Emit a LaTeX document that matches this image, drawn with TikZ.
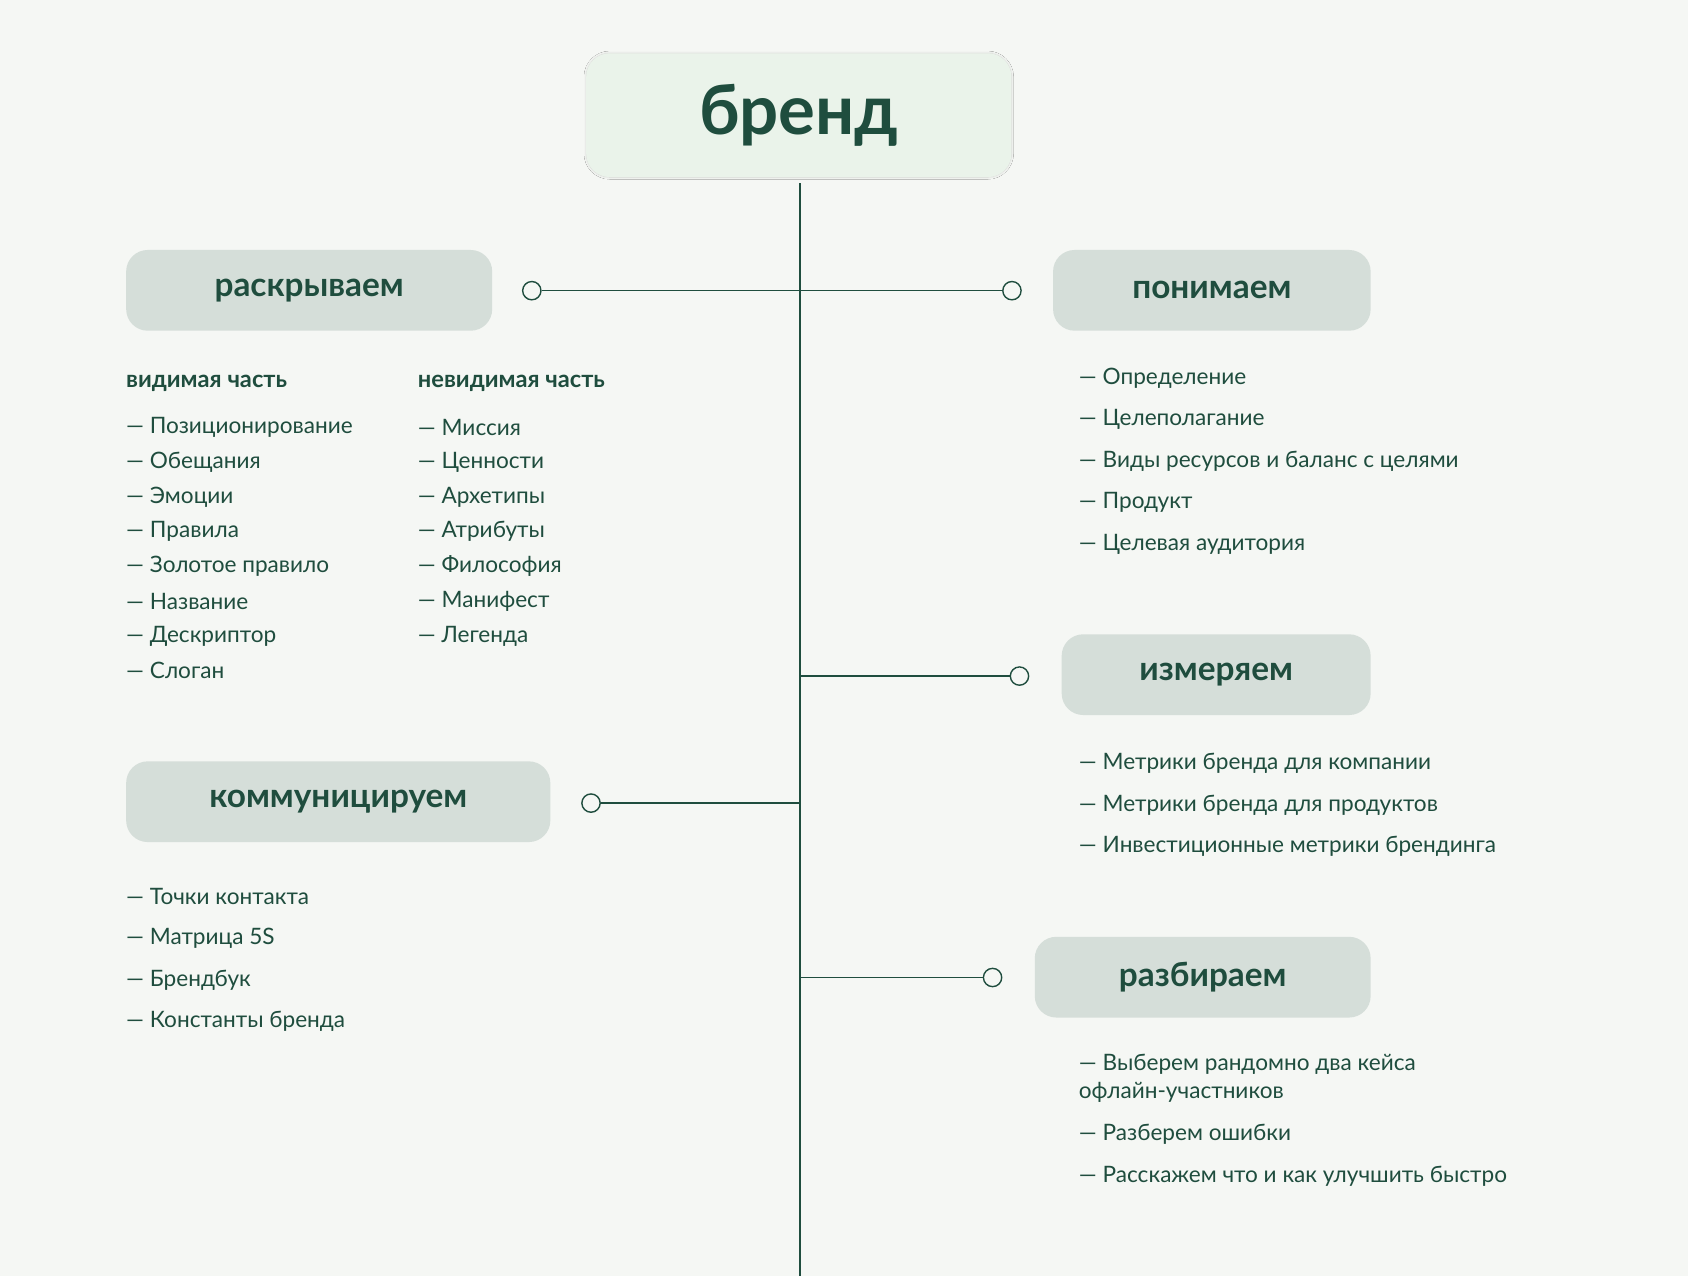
\documentclass[tikz,border=0pt]{standalone}
\usepackage{fontspec}
\setmainfont{Lato}
\usetikzlibrary{shadows.blur}
\definecolor{bg}{HTML}{F5F7F4}
\definecolor{dk}{HTML}{1F4D3E}
\definecolor{bx}{HTML}{D5DED9}
\definecolor{tb}{HTML}{EAF3EA}
\begin{document}
\begin{tikzpicture}[x=1pt,y=-1pt,
  hbox/.style={fill=bx,rounded corners=20pt,text=dk,font=\fontsize{31}{34}\selectfont\bfseries,anchor=north west,inner sep=0pt,align=center},
  item/.style={anchor=west,text=dk,font=\fontsize{21}{25}\selectfont,inner sep=0pt},
  sub/.style={anchor=west,text=dk,font=\fontsize{22}{25}\selectfont\bfseries,inner sep=0pt},
  ln/.style={draw=dk,line width=1.3pt},
  dot/.style={circle,draw=dk,line width=1.3pt,fill=bg,minimum size=17pt,inner sep=0pt}]
\fill[bg] (0,0) rectangle (1568,1185);
\useasboundingbox (0,0) rectangle (1568,1185);
\node[fill=tb,rounded corners=22pt,blur shadow={shadow blur steps=8,shadow xshift=0pt,shadow yshift=0pt,shadow opacity=15},minimum width=395pt,minimum height=115pt,text=dk,font=\fontsize{64}{70}\selectfont\bfseries,inner sep=0pt] (title) at (742,107) {бренд};
\coordinate (top) at (743,170);
\coordinate (bot) at (743,1185);
\draw[ln] (top) -- (bot);
\node[hbox,minimum width=340pt,minimum height=75pt] (b1) at (117,232) {раскрываем};
\node[hbox,minimum width=295pt,minimum height=75pt] (b2) at (978,232) {понимаем};
\node[hbox,minimum width=287pt,minimum height=75pt] (b3) at (986,589) {измеряем};
\node[hbox,minimum width=394pt,minimum height=75pt] (b4) at (117,707) {коммуницируем};
\node[hbox,minimum width=312pt,minimum height=75pt] (b5) at (961,870) {разбираем};
\node[dot] (c1) at (494,270) {};
\node[dot] (c2) at (940,270) {};
\node[dot] (c3) at (947,628) {};
\node[dot] (c4) at (549,746) {};
\node[dot] (c5) at (922,908) {};
\coordinate (j3) at (743,628);
\coordinate (j4) at (743,746);
\coordinate (j5) at (743,908);
\draw[ln] (c1) -- (c2);
\draw[ln] (j3) -- (c3);
\draw[ln] (c4) -- (j4);
\draw[ln] (j5) -- (c5);
\node[sub] (s1) at (117,356) {видимая часть};
\node[sub] (s2) at (388,356) {невидимая часть};
\foreach \t [count=\i] in {Позиционирование,Обещания,Эмоции,Правила,Золотое правило,Название,Дескриптор,Слоган}
  \node[item] (l\i) at (117,{397+32.3*(\i-1)}) {— \t};
\foreach \t [count=\i] in {Миссия,Ценности,Архетипы,Атрибуты,Философия,Манифест,Легенда}
  \node[item] (m\i) at (388,{397+32.3*(\i-1)}) {— \t};
\foreach \t [count=\i] in {Определение,Целеполагание,Виды ресурсов и баланс с целями,Продукт,Целевая аудитория}
  \node[item] (r\i) at (1002,{351+38.7*(\i-1)}) {— \t};
\foreach \t [count=\i] in {Метрики бренда для компании,Метрики бренда для продуктов,Инвестиционные метрики брендинга}
  \node[item] (q\i) at (1002,{709+38.7*(\i-1)}) {— \t};
\foreach \t [count=\i] in {Точки контакта,Матрица 5S,Брендбук,Константы бренда}
  \node[item] (k\i) at (117,{833+38.7*(\i-1)}) {— \t};
\node[item] (z1) at (1002,989) {— Выберем рандомно два кейса};
\node[item] (z1b) at (1002,1015) {офлайн-участников};
\node[item] (z2) at (1002,1054) {— Разберем ошибки};
\node[item] (z3) at (1002,1093) {— Расскажем что и как улучшить быстро};
\end{tikzpicture}
\end{document}
